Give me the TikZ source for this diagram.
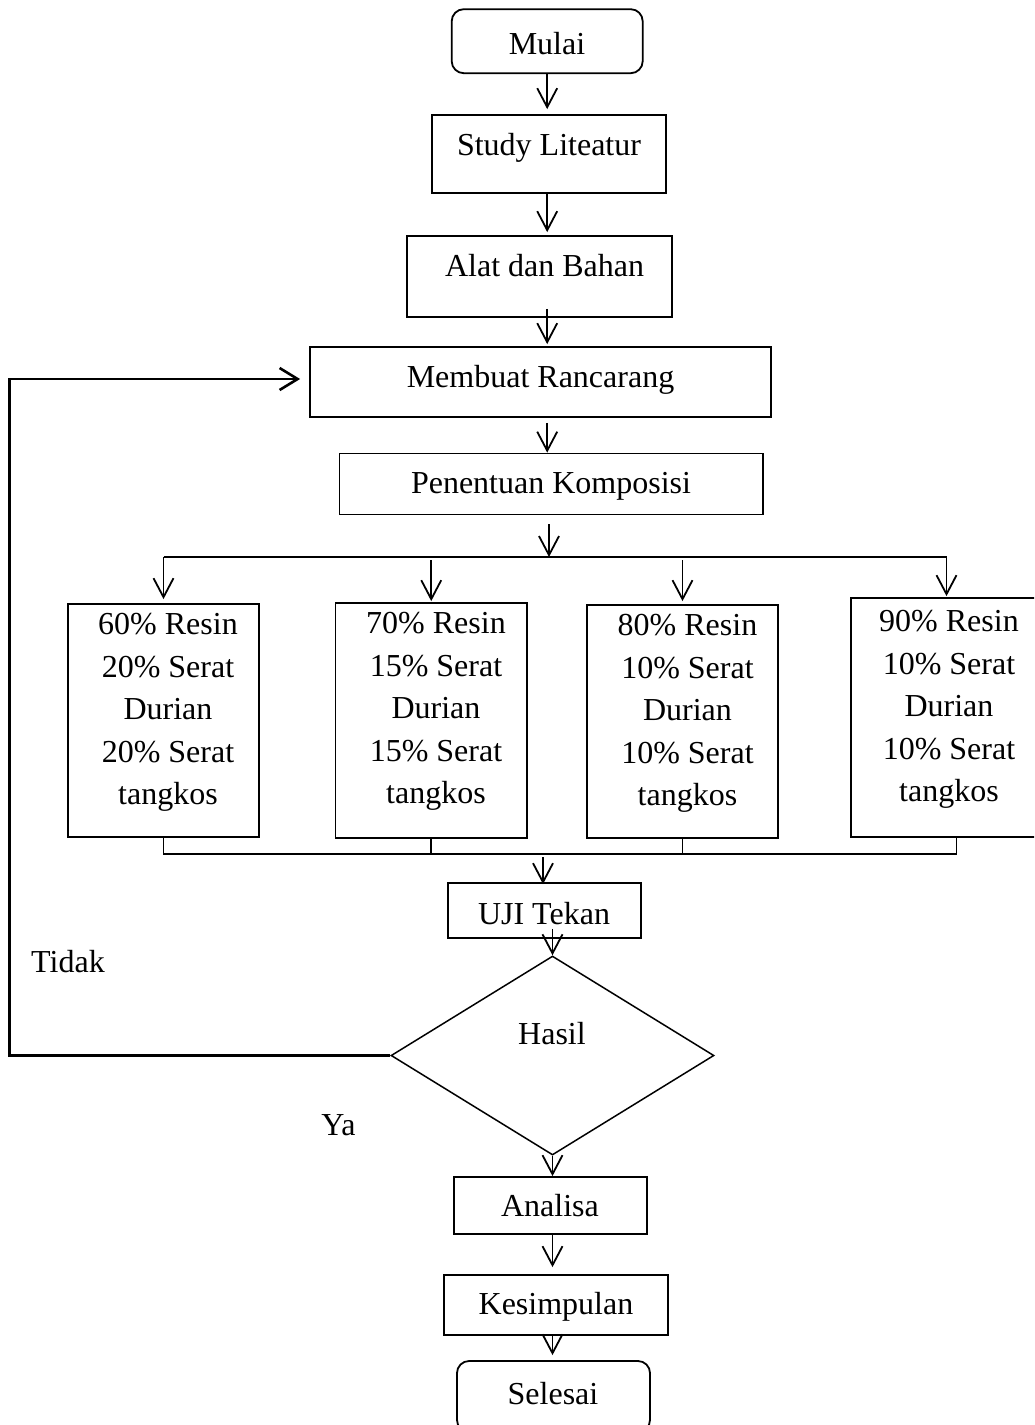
\documentclass[tikz,border=0pt]{standalone}
\usepackage{fontspec}
\setmainfont{Liberation Serif}
\usetikzlibrary{arrows.meta,shapes.geometric,calc}
\begin{document}
\begin{tikzpicture}[x=1pt,y=-1pt,
  font=\fontsize{32}{42.5}\selectfont,
  box/.style={draw,line width=1.8pt,inner sep=0pt,rectangle},
  term/.style={box,rounded corners=12pt},
  txt/.style={inner sep=0pt,anchor=base},
  mtxt/.style={inner sep=0pt,align=center},
  arr/.style={line width=1.6pt,-{Straight Barb[length=19pt,width=20pt,line width=1.8pt]}},
  plain/.style={line width=1.8pt},
  looparr/.style={line width=2.6pt,-{Straight Barb[length=18pt,width=22pt,line width=2.6pt]}},
]
\useasboundingbox (0,0) rectangle (1034,1425);
\clip (0,0) rectangle (1034,1425);

% boxes
\node[term,minimum width=191pt,minimum height=64pt] (mulai) at (547.2,41.2) {};
\node[box,minimum width=234pt,minimum height=78pt] (study) at (549,154) {};
\node[box,minimum width=265pt,minimum height=81pt] (alat) at (539.5,276.5) {};
\node[box,minimum width=461pt,minimum height=70pt] (memb) at (540.5,382) {};
\node[box,minimum width=423.5pt,minimum height=61pt] (pen) at (551.25,484) {};
\node[box,minimum width=191pt,minimum height=233pt] (b1) at (163.5,720.5) {};
\node[box,minimum width=191.5pt,minimum height=235pt] (b2) at (431.25,720.5) {};
\node[box,minimum width=191pt,minimum height=233pt] (b3) at (682.5,721.5) {};
\node[box,minimum width=191pt,minimum height=239pt] (b4) at (946.5,717.5) {};
\node[box,minimum width=193pt,minimum height=55pt] (uji) at (544.5,910.5) {};
\node[draw,diamond,line width=1.5pt,inner sep=0pt,minimum width=323pt,minimum height=199pt] (hasil) at (552.5,1055.5) {};
\node[box,minimum width=193pt,minimum height=57pt] (anal) at (550.5,1205.5) {};
\node[box,minimum width=224pt,minimum height=60pt] (kes) at (556,1305) {};
\node[term,minimum width=193pt,minimum height=71pt] (sel) at (553.5,1396.5) {};

% texts
\node[txt] (mulaiT) at (547,54) {Mulai};
\node[txt] (studyT) at (549,155) {Study Liteatur};
\node[txt] (alatT) at (544.6,276) {Alat dan Bahan};
\node[txt] (membT) at (540.5,387) {Membuat Rancarang};
\node[txt] (penT) at (551,493) {Penentuan Komposisi};
\node[mtxt] (b1T) at (168,712.7) {60\% Resin\\20\% Serat\\Durian\\20\% Serat\\tangkos};
\node[mtxt] (b2T) at (436,711.7) {70\% Resin\\15\% Serat\\Durian\\15\% Serat\\tangkos};
\node[mtxt] (b3T) at (687.5,713.7) {80\% Resin\\10\% Serat\\Durian\\10\% Serat\\tangkos};
\node[mtxt] (b4T) at (949,709.7) {90\% Resin\\10\% Serat\\Durian\\10\% Serat\\tangkos};
\node[txt] (ujiT) at (544,924) {UJI Tekan};
\node[txt] (hasilT) at (552,1044) {Hasil};
\node[txt] (tidak) at (68,972) {Tidak};
\node[txt] (ya) at (338.5,1135.5) {Ya};
\node[txt] (analT) at (550,1216.5) {Analisa};
\node[txt] (kesT) at (556,1314) {Kesimpulan};
\node[txt] (selT) at (553,1404) {Selesai};

% helper coordinates
\coordinate (br) at (549,557);
\coordinate (co) at (543,854);
\coordinate (lp) at (9.5,379);

% vertical flow
\draw[arr] (mulai.south) -- ([yshift=5pt]mulai.south |- study.north);
\draw[arr] (mulai.south |- study.south) -- ([yshift=3pt]mulai.south |- alat.north);
\draw[arr] ([yshift=9pt]mulai.south |- alat.south) -- ([yshift=2pt]mulai.south |- memb.north);
\draw[arr] ([yshift=-5pt]mulai.south |- memb.south) -- (mulai.south |- pen.north);
\draw[arr] ([yshift=-9pt]br |- pen.south) -- (br);

% branch
\draw[plain] (b1.north |- br) -- (b4.north |- br);
\draw[arr] (b1.north |- br) -- ([yshift=4pt]b1.north);
\draw[arr] ([yshift=-3pt]b2.north |- br) -- ([yshift=1pt]b2.north);
\draw[arr] ([yshift=-3pt]b3.north |- br) -- ([yshift=3pt]b3.north);
\draw[arr] (b4.north |- br) -- ([yshift=1pt]b4.north);

% collector
\draw[plain] (b1.south) -- (b1.south |- co) -- ([xshift=10pt]b4.south |- co) -- ([xshift=10pt]b4.south);
\draw[plain] (b2.south) -- (b2.south |- co);
\draw[plain] (b3.south) -- (b3.south |- co);
\draw[arr] ([yshift=-3pt]co) -- ([yshift=-2pt]co |- uji.north);

% lower flow
\draw[arr] ([yshift=10pt]hasil.north |- uji.south) -- (hasil.north);
\draw[arr] (hasil.south) -- (hasil.south |- anal.north);
\draw[arr] (hasil.south |- anal.south) -- ([yshift=7pt]hasil.south |- kes.north);
\draw[arr] (hasil.south |- kes.south) -- ([yshift=5pt]hasil.south |- sel.north);

% loop back (Tidak)
\draw[looparr] (hasil.west) -| (lp) -- ([xshift=-9pt]lp -| memb.west);
\end{tikzpicture}
\end{document}
